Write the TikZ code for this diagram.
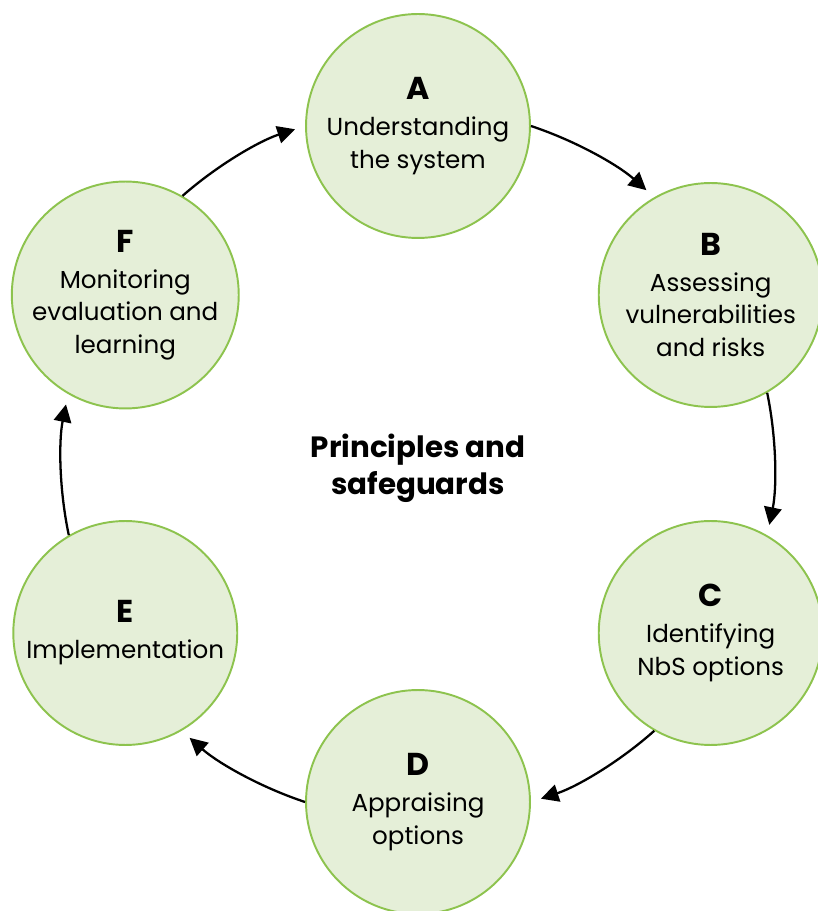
\documentclass[tikz,border=0pt]{standalone}
\usepackage{fontspec}
\setmainfont{Poppins}
\usetikzlibrary{arrows.meta}
\definecolor{stagefill}{HTML}{E5EFD8}
\definecolor{stageline}{HTML}{8DC34E}
\newcommand\stageletter[1]{{\fontsize{18}{20}\selectfont\bfseries #1}}
\begin{document}
\begin{tikzpicture}
  [x=0.02cm,y=0.02cm,
   stage/.style={circle,draw=stageline,fill=stagefill,line width=1.1pt,
     inner sep=0pt,minimum size=4.48cm,align=center,
     font=\fontsize{14}{18.5}\selectfont},
   cycle/.style={-{Triangle[length=10pt,width=10pt]},line width=1.3pt,
     bend left=11.66,looseness=0.86,shorten >=6pt}]
  \useasboundingbox (-418,-447) rectangle (399,464);

  \node (A) at (90:338) [stage] {\stageletter{A}\\[2pt]Understanding\\the system};
  \node (B) at (30:338) [stage] {\stageletter{B}\\[2pt]Assessing\\vulnerabilities\\and risks};
  \node (C) at (-30:338) [stage] {\stageletter{C}\\[2pt]Identifying\\NbS options};
  \node (D) at (-90:338) [stage] {\stageletter{D}\\[2pt]Appraising\\options};
  \node (E) at (-150:338) [stage] {\stageletter{E}\\[2pt]Implementation};
  \node (F) at (150:338) [stage] {\stageletter{F}\\[2pt]Monitoring\\evaluation and\\learning};

  \node (core) at (0,-4) [align=center,font=\fontsize{16.7}{21}\selectfont\bfseries]
    {Principles and\\safeguards};

  \draw [cycle] (A.0) to (B.120);
  \draw [cycle] (B.-60) to (C.60);
  \draw [cycle] (C.-120) to (D.0);
  \draw [cycle] (D.180) to (E.-60);
  \draw [cycle] (E.120) to (F.-120);
  \draw [cycle] (F.60) to (A.180);
\end{tikzpicture}
\end{document}
